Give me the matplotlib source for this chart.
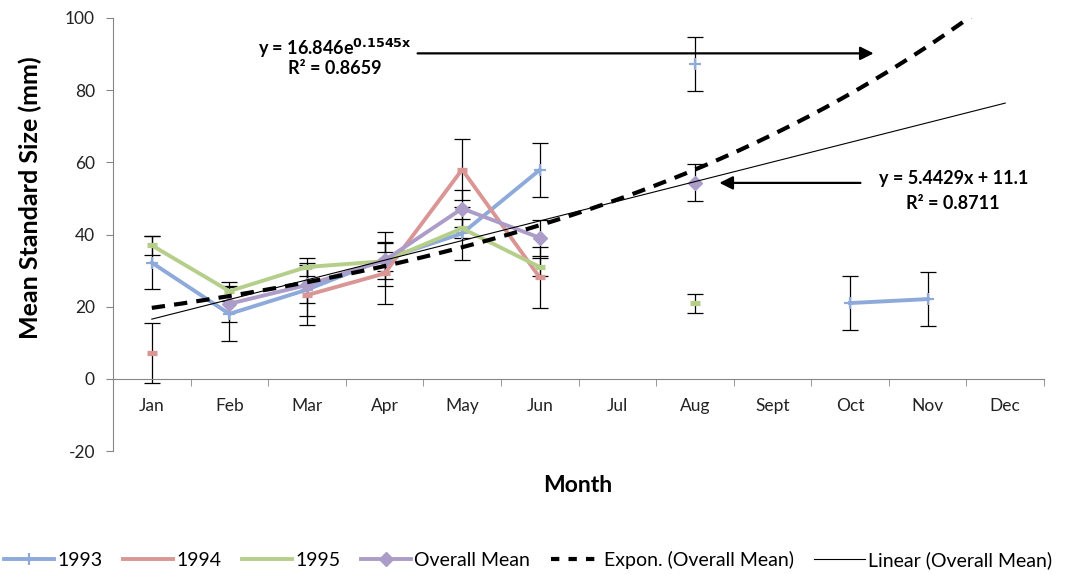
import numpy as np
import matplotlib
matplotlib.use("Agg")
import matplotlib.pyplot as plt
from matplotlib.lines import Line2D

nan = np.nan

# categories and series
months = ['Jan', 'Feb', 'Mar', 'Apr', 'May', 'Jun', 'Jul', 'Aug', 'Sept', 'Oct', 'Nov', 'Dec']
y1993 = [32.2, 18.0, 24.7, 33.2, 40.3, 57.9, nan, 87.2, nan, 21.0, 22.1, nan]
y1994 = [7.1, nan, 23.2, 29.2, 58.0, 28.1, nan, nan, nan, nan, nan, nan]
y1995 = [37.0, 24.3, 31.0, 32.6, 41.7, 31.0, nan, 20.9, nan, nan, nan, nan]
overall = [nan, 20.8, 26.0, 32.8, 47.2, 39.1, nan, 54.4, nan, nan, nan, nan]

# standard error per series (constant per series in the chart)
err1993 = 7.4
err1994 = 8.35
err1995 = 2.6
err_overall = 5.0

# trendline coefficients shown on the chart
lin_slope, lin_icpt = 5.4429, 11.1
exp_a, exp_b = 16.846, 0.1545

c1993 = '#8EAADB'
c1994 = '#D99694'
c1995 = '#B5CF8B'
cmean = '#AC9CC8'
gray = '#868686'

plt.rcParams['font.family'] = ['Lato', 'DejaVu Sans']
plt.rcParams['axes.unicode_minus'] = False

fig = plt.figure(figsize=(10.69, 5.75), dpi=100)
ax = fig.add_axes([113 / 1069, 1 - 451 / 575, (1044 - 113) / 1069, (451 - 18) / 575])

x = np.arange(len(months))

ebkw = dict(ecolor='black', elinewidth=0.9, capsize=6, capthick=0.9, zorder=2)
ax.errorbar(x, y1993, yerr=err1993, fmt='none', **ebkw)
ax.errorbar(x, y1994, yerr=err1994, fmt='none', **ebkw)
ax.errorbar(x, y1995, yerr=err1995, fmt='none', **ebkw)
ax.errorbar(x, overall, yerr=err_overall, fmt='none', **ebkw)

ax.plot(x, y1993, color=c1993, lw=2.8, marker='+', ms=9, mew=1.6, zorder=3, label='1993')
ax.plot(x, y1994, color=c1994, lw=2.8, marker='_', ms=7.5, mew=3.8, zorder=3, label='1994')
ax.plot(x, y1995, color=c1995, lw=2.8, marker='_', ms=7.5, mew=3.8, zorder=3, label='1995')
ax.plot(x, overall, color=cmean, lw=2.8, marker='D', ms=7.5, mew=1, mec=cmean, zorder=3,
        label='Overall Mean')

# trendlines (Excel uses x = 1..12)
xt = np.linspace(0, 11, 200)
ax.plot(xt, exp_a * np.exp(exp_b * (xt + 1)), color='black', lw=3, dashes=(3.2, 2.2),
        zorder=4, label='Expon. (Overall Mean)')
ax.plot(xt, lin_slope * (xt + 1) + lin_icpt, color='black', lw=0.8, zorder=4,
        label='Linear (Overall Mean)')

ax.set_xlim(-0.5, 11.5)
ax.set_ylim(-20, 100)
ax.set_yticks(np.arange(-20, 101, 20))

ax.spines['top'].set_visible(False)
ax.spines['right'].set_visible(False)
ax.spines['left'].set_color(gray)
ax.spines['bottom'].set_color(gray)
ax.spines['bottom'].set_position(('data', 0))

ax.set_xticks(x)
ax.set_xticklabels(months)
ax.set_xticks(np.arange(-0.5, 12, 1), minor=True)
ax.tick_params(axis='x', which='major', length=0, pad=14, labelsize=12.5, labelcolor='#222222')
ax.tick_params(axis='x', which='minor', length=5, direction='out', color=gray)
ax.tick_params(axis='y', length=5, direction='out', color=gray, labelsize=12.5,
               labelcolor='#222222', pad=8)

fig.text(30 / 1069, 1 - 198 / 575, 'Mean Standard Size (mm)', rotation=90, fontsize=18,
         fontweight='bold', ha='center', va='center')
fig.text(578 / 1069, 1 - 486 / 575, 'Month', fontsize=16.5, fontweight='bold',
         ha='center', va='center')

# equation labels with arrows
ax.text(2.36, 91.6, r'y = 16.846e$^{\mathbf{0.1545x}}$', fontsize=13, fontweight='bold',
        ha='center', va='center')
ax.text(2.36, 85.9, 'R² = 0.8659', fontsize=13, fontweight='bold', ha='center', va='center')
ax.annotate('', xy=(9.34, 90.2), xytext=(3.39, 90.2),
            arrowprops=dict(arrowstyle='-|>', color='black', lw=1.6, mutation_scale=20))

ax.text(10.33, 55.5, 'y = 5.4429x + 11.1', fontsize=13, fontweight='bold', ha='center',
        va='center')
ax.text(10.33, 48.6, 'R² = 0.8711', fontsize=13, fontweight='bold', ha='center', va='center')
ax.annotate('', xy=(7.28, 54.3), xytext=(9.17, 54.3),
            arrowprops=dict(arrowstyle='-|>', color='black', lw=1.6, mutation_scale=20))

handles, labels = ax.get_legend_handles_labels()
handles = [
    Line2D([], [], color=c1993, lw=2.8, marker='+', ms=9, mew=1.6),
    Line2D([], [], color=c1994, lw=2.8),
    Line2D([], [], color=c1995, lw=2.8),
    Line2D([], [], color=cmean, lw=2.8, marker='D', ms=7.5, mec=cmean),
    Line2D([], [], color='black', lw=3, dashes=(2, 2.2)),
    Line2D([], [], color='black', lw=0.8),
]
fig.legend(handles, labels, loc='center', bbox_to_anchor=(528 / 1069, 1 - 560 / 575), ncol=6,
           frameon=False, handlelength=2.6, handletextpad=0.15, columnspacing=1.05,
           borderpad=0.1, prop={'size': 14})

fig.savefig('out.png', dpi=100)
